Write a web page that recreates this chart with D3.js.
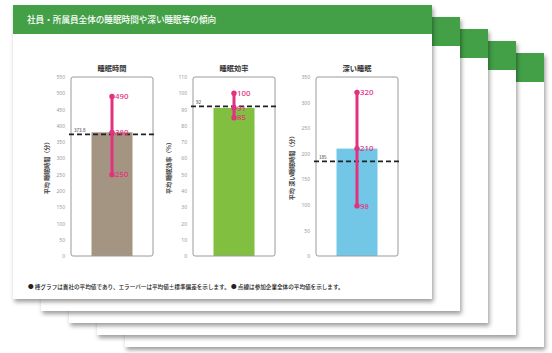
<!DOCTYPE html>
<html lang="ja">
<head>
<meta charset="UTF-8">
<title>睡眠時間や深い睡眠等の傾向</title>
<script src="https://cdnjs.cloudflare.com/ajax/libs/d3/7.8.5/d3.min.js"></script>
<style>
  body { margin: 0; background: #fff; }
  svg { display: block; font-family: "Noto Sans CJK JP", "Noto Sans", sans-serif; }
</style>
</head>
<body>
<svg id="chart" width="552" height="353"></svg>
<script>
// data
const panelTitles = ["睡眠時間", "睡眠効率", "深い睡眠"];
const axisLabels = ["平均 睡眠時間（分）", "平均 睡眠効率（%）", "平均 深い睡眠時間（分）"];
const yMax = [550, 110, 350];
const tickStep = [50, 10, 50];
const meanValues = [380, 91, 210];
const upperValues = [490, 100, 320];
const lowerValues = [250, 85, 98];
const overallAvg = [373.8, 92, 185];
const overallLabels = ["373.8", "92", "185"];
const barColors = ["#a39582", "#80bf3f", "#72c7e7"];
const headerTitle = "社員・所属員全体の睡眠時間や深い睡眠等の傾向";
const footnote = "● 棒グラフは貴社の平均値であり、エラーバーは平均値±標準偏差を示します。 ● 点線は参加企業全体の平均値を示します。";

const svg = d3.select("#chart");
const green = "#43a047";
const pink = "#e3307f";

const defs = svg.append("defs");
const shadow = defs.append("filter").attr("id", "shadow")
  .attr("x", "-5%").attr("y", "-5%").attr("width", "115%").attr("height", "115%");
shadow.append("feDropShadow").attr("dx", 1.5).attr("dy", 3).attr("stdDeviation", 2)
  .attr("flood-color", "#000").attr("flood-opacity", 0.38);

// stacked pages, back to front
const pageW = 419, pageH = 294;
const pages = d3.range(4, -1, -1);
svg.selectAll("g.page").data(pages).join("g")
  .attr("class", "page")
  .attr("transform", i => `translate(${13 + i * 28},${5 + i * 12})`)
  .each(function () {
    const g = d3.select(this);
    g.append("rect").attr("width", pageW).attr("height", pageH)
      .attr("fill", "#fff").attr("filter", "url(#shadow)");
    g.append("rect").attr("width", pageW).attr("height", 29).attr("fill", green);
  });

svg.append("text")
  .attr("x", 27).attr("y", 23)
  .attr("fill", "#fff").attr("font-size", 8.6).attr("font-weight", 500)
  .text(headerTitle);

// panels
const boxLeft = [71, 193, 316];
const boxW = 82, boxTop = 77, boxBottom = 256;

panelTitles.forEach((title, i) => {
  const g = svg.append("g").attr("transform", `translate(${boxLeft[i]},0)`);
  const y = d3.scaleLinear().domain([0, yMax[i]]).range([boxBottom, boxTop]);
  const x = d3.scaleBand().domain([title]).range([0, boxW]).paddingInner(0.5).paddingOuter(0.25);
  const cx = x(title) + x.bandwidth() / 2;

  g.append("text").attr("x", boxW / 2).attr("y", 71)
    .attr("text-anchor", "middle").attr("font-size", 7.2).attr("font-weight", 700)
    .attr("fill", "#333").text(title);

  const axis = d3.axisLeft(y).tickValues(d3.range(0, yMax[i] + 1, tickStep[i]))
    .tickSize(0).tickPadding(6);
  const ax = g.append("g").call(axis);
  ax.select(".domain").remove();
  ax.selectAll("text").attr("font-size", 5).attr("fill", "#999")
    .attr("font-family", "Noto Sans, sans-serif");

  g.append("text")
    .attr("transform", `translate(-22,${(boxTop + boxBottom) / 2}) rotate(-90)`)
    .attr("text-anchor", "middle").attr("font-size", 6).attr("font-weight", 700)
    .attr("fill", "#444").text(axisLabels[i]);

  g.append("rect").attr("x", x(title)).attr("y", y(meanValues[i]))
    .attr("width", x.bandwidth()).attr("height", boxBottom - y(meanValues[i]))
    .attr("fill", barColors[i]);

  g.append("rect").attr("x", 0).attr("y", boxTop).attr("width", boxW)
    .attr("height", boxBottom - boxTop).attr("rx", 2)
    .attr("fill", "none").attr("stroke", "#9a9a9a").attr("stroke-width", 1);

  // overall average line
  g.append("line").attr("x1", -2).attr("x2", boxW + 2)
    .attr("y1", y(overallAvg[i])).attr("y2", y(overallAvg[i]))
    .attr("stroke", "#222").attr("stroke-width", 1.7).attr("stroke-dasharray", "5,3");
  g.append("text").attr("x", 3).attr("y", y(overallAvg[i]) - 2.5)
    .attr("font-size", 4.6).attr("fill", "#333").text(overallLabels[i]);

  // error bar
  g.append("line").attr("x1", cx).attr("x2", cx)
    .attr("y1", y(upperValues[i])).attr("y2", y(lowerValues[i]))
    .attr("stroke", pink).attr("stroke-width", 3);
  const pts = [upperValues[i], meanValues[i], lowerValues[i]];
  g.selectAll("circle.pt").data(pts).join("circle")
    .attr("cx", cx).attr("cy", d => y(d)).attr("r", 2.7).attr("fill", pink);
  g.selectAll("text.pt").data(pts).join("text")
    .attr("x", cx + 3).attr("y", d => y(d) + 2.8)
    .attr("font-size", 7.8).attr("font-weight", 500).attr("fill", pink)
    .attr("font-family", "Noto Sans, sans-serif")
    .text(d => d);
});

svg.append("text").attr("x", 28).attr("y", 289)
  .attr("font-size", 5.6).attr("font-weight", 500).attr("fill", "#222").text(footnote);
</script>
</body>
</html>
